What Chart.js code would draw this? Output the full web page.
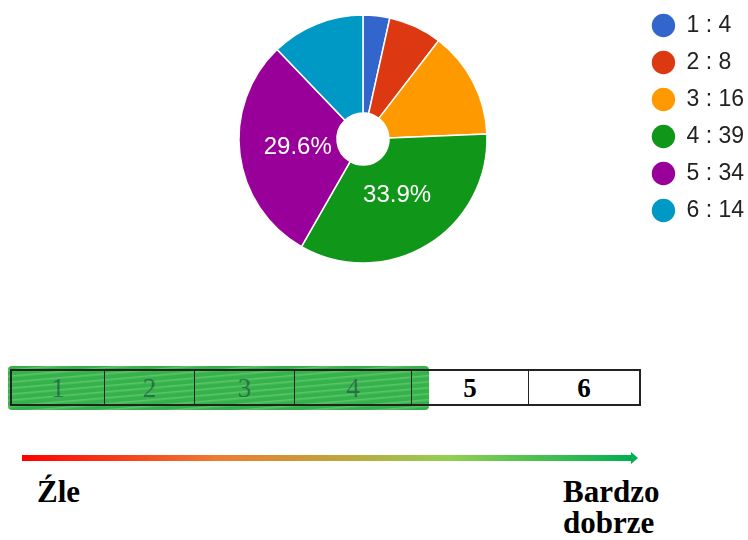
<!DOCTYPE html>
<html>
<head>
<meta charset="utf-8">
<script src="https://cdn.jsdelivr.net/npm/chart.js@4"></script>
<style>
    body { margin: 0; width: 748px; height: 540px; overflow: hidden; background: #fff; position: relative; }
    #pie_box { position: absolute; left: 0; top: 0; width: 754px; height: 278px; }
    .marker { position: absolute; left: 8px; top: 366px; width: 421px; height: 44px;
        background: repeating-linear-gradient(175deg, #35b24b 0px, #35b24b 3px, #5cc46a 4px, #3ab54c 6px);
        border-radius: 4px; }
    .scale { position: absolute; left: 10px; top: 369px; height: 33px; border: 2px solid #222; display: flex; }
    .scale div { height: 33px; border-right: 1.5px solid #222; box-sizing: border-box; text-align: center;
        font: bold 27px "Liberation Serif", "Times New Roman", serif; line-height: 35px; color: #000; }
    .scale div:last-child { border-right: none; }
    .scale .covered { color: rgba(25, 55, 70, 0.55); font-weight: normal; }
    .arrow { position: absolute; left: 22px; top: 455px; width: 609px; height: 6px;
        background: linear-gradient(to right, #ff0000, #ee7b30 32%, #c0a43c 52%, #92d050 70%, #00b050); }
    .arrow_head { position: absolute; left: 631px; top: 452px; width: 0; height: 0;
        border-left: 7px solid #00b050; border-top: 6px solid transparent; border-bottom: 6px solid transparent; }
    .lbl { position: absolute; font: bold 31px "Liberation Serif", "Times New Roman", serif; line-height: 31px; color: #000; }
</style>
</head>
<body>
<div id="pie_box"><canvas id="pie_canvas"></canvas></div>

<div class="marker"></div>
<div class="scale" id="scale_row"></div>
<div class="arrow"></div>
<div class="arrow_head"></div>
<div class="lbl" style="left:37px; top:476px;">Źle</div>
<div class="lbl" style="left:563px; top:476px;">Bardzo<br>dobrze</div>

<script>
const answer_labels = ["1", "2", "3", "4", "5", "6"];
const answer_counts = [4, 8, 16, 39, 34, 14];
const slice_colors = ["#3366CC", "#DC3912", "#FF9900", "#109618", "#990099", "#0099C6"];

const scale_steps = ["1", "2", "3", "4", "5", "6"];
const scale_widths = [93, 90, 100, 117, 117, 110];
const covered_steps = 4;

document.addEventListener("DOMContentLoaded", ()=>{
    build_scale();
    new_pie_chart(document.getElementById("pie_canvas"));
});

function build_scale(){
    let row = document.getElementById("scale_row");
    scale_steps.forEach((step, i)=>{
        let cell = document.createElement("div");
        cell.style.width = scale_widths[i] + "px";
        cell.textContent = step;
        if(i < covered_steps){
            cell.className = "covered";
        }
        row.appendChild(cell);
    });
}

// writes the share of the big slices inside them, like the google forms pie
const percent_labels = {
    id: "percent_labels",
    afterDatasetsDraw(chart){
        let ctx = chart.ctx;
        let meta = chart.getDatasetMeta(0);
        let data = chart.data.datasets[0].data;
        let total = data.reduce((a, b)=> a + b, 0);
        ctx.save();
        ctx.fillStyle = "#ffffff";
        ctx.font = "24px Arial, 'Liberation Sans', sans-serif";
        ctx.textAlign = "center";
        ctx.textBaseline = "middle";
        meta.data.forEach((arc, i)=>{
            let share = data[i] / total;
            if(share < 0.2){
                return;
            }
            let mid = (arc.startAngle + arc.endAngle) / 2;
            let r = arc.outerRadius * 0.53;
            ctx.fillText((share * 100).toFixed(1) + "%", arc.x + Math.cos(mid) * r, arc.y + Math.sin(mid) * r);
        });
        ctx.restore();
    }
};

function new_pie_chart(canvas){
    return new Chart(canvas, {
        type: "doughnut",
        data: {
            labels: answer_labels,
            datasets: [{
                data: answer_counts,
                backgroundColor: slice_colors,
                borderColor: "#ffffff",
                borderWidth: 1.5,
                hoverOffset: 0
            }]
        },
        options: {
            responsive: true,
            maintainAspectRatio: false,
            animation: false,
            radius: 124,
            cutout: "21%",
            layout: { padding: { left: 88, right: 0, top: 0, bottom: 0 } },
            plugins: {
                tooltip: { enabled: false },
                legend: {
                    position: "right",
                    align: "start",
                    labels: {
                        usePointStyle: true,
                        pointStyle: "circle",
                        boxWidth: 23,
                        boxHeight: 16.5,
                        padding: 14,
                        color: "#222222",
                        font: { size: 23, family: "Arial, 'Liberation Sans', sans-serif" },
                        generateLabels(chart){
                            let ds = chart.data.datasets[0];
                            return chart.data.labels.map((label, i)=>({
                                text: label + " : " + ds.data[i],
                                fillStyle: ds.backgroundColor[i],
                                strokeStyle: ds.backgroundColor[i],
                                fontColor: "#222222",
                                lineWidth: 0,
                                pointStyle: "circle",
                                hidden: false,
                                index: i
                            }));
                        }
                    }
                }
            }
        },
        plugins: [percent_labels]
    });
}
</script>
</body>
</html>
